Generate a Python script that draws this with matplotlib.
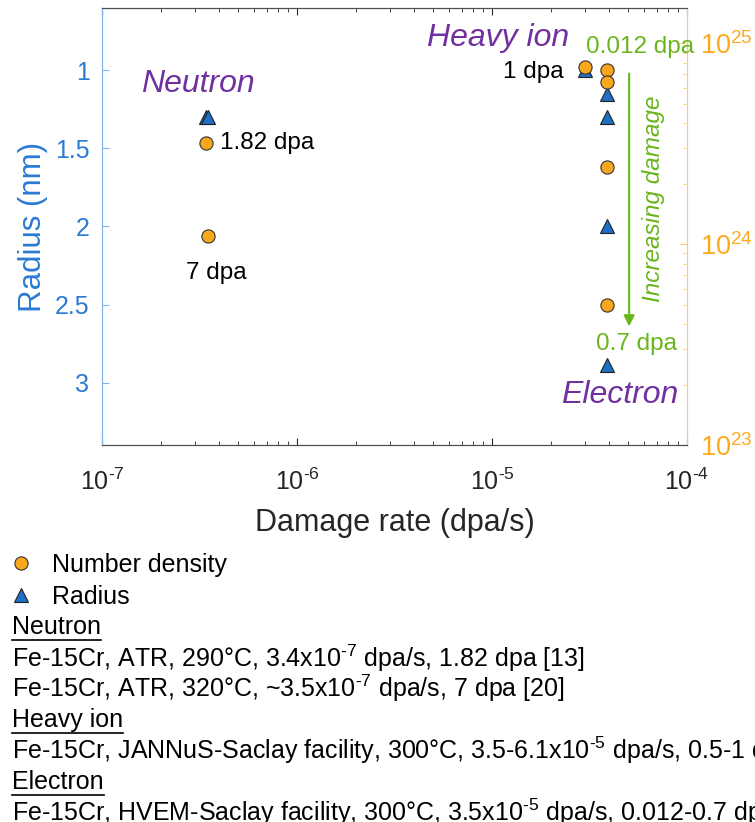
import matplotlib
matplotlib.use("Agg")
import matplotlib.pyplot as plt
from matplotlib.lines import Line2D
from matplotlib.ticker import FuncFormatter
import numpy as np

plt.rcParams["font.family"] = ["Liberation Sans", "DejaVu Sans"]
plt.rcParams["mathtext.fontset"] = "custom"
plt.rcParams["mathtext.rm"] = "Liberation Sans"
plt.rcParams["mathtext.it"] = "Liberation Sans:italic"
plt.rcParams["axes.unicode_minus"] = False

HY = "\u2010"  # short hyphen for exponents

# damage rate (dpa/s), radius (nm), number density (m^-3)
neutron_rate = [3.4e-7, 3.5e-7]
neutron_radius = [1.30, 1.30]
neutron_density = [3.2e24, 1.1e24]

ion_rate = [3.0e-5]
ion_radius = [1.0]
ion_density = [7.6e24]

electron_rate = [3.9e-5, 3.9e-5, 3.9e-5, 3.9e-5]
electron_radius = [1.15, 1.30, 2.0, 2.89]
electron_density = [7.4e24, 6.4e24, 2.42e24, 5.0e23]

desc_lines = [
    ("Neutron", True),
    ("Fe-15Cr, ATR, 290°C, 3.4x10$^{" + HY + "7}$ dpa/s, 1.82 dpa [13]", False),
    ("Fe-15Cr, ATR, 320°C, ~3.5x10$^{" + HY + "7}$ dpa/s, 7 dpa [20]", False),
    ("Heavy ion", True),
    ("Fe-15Cr, JANNuS-Saclay facility, 300°C, 3.5-6.1x10$^{" + HY
     + "5}$ dpa/s, 0.5-1 dpa", False),
    ("Electron", True),
    ("Fe-15Cr, HVEM-Saclay facility, 300°C, 3.5x10$^{" + HY
     + "5}$ dpa/s, 0.012-0.7 dpa", False),
]

ORANGE = "#F9A81E"
ORANGE_TXT = "#FBAA1E"
BLUE = "#1F6FC5"
BLUE_TXT = "#2B7AD3"
PURPLE = "#7030A0"
GREEN = "#6AB51E"
DARK = "#262626"

W, H = 755, 822


def fx(px):
    return px / W


def fy(py):
    return 1 - py / H


def pow10(v, pos):
    e = int(round(np.log10(v)))
    s = str(e).replace("-", HY)
    return "$\\mathdefault{10^{" + s + "}}$"


fig = plt.figure(figsize=(W / 100, H / 100), dpi=100)
ax = fig.add_axes([fx(102), fy(445), fx(687 - 102), (445 - 8) / H])
ax2 = ax.twinx()

ax.set_xscale("log")
ax.set_xlim(1e-7, 1e-4)
ax.xaxis.set_major_formatter(FuncFormatter(pow10))
ax.set_ylim(3.4, 0.6)
ax.set_yticks([1, 1.5, 2, 2.5, 3])
ax.set_yticklabels(["1", "1.5", "2", "2.5", "3"])
ax2.set_yscale("log")
ax2.set_ylim(1e23, 1.5e25)
ax2.set_yticks([1e23, 1e24, 1e25])
ax2.yaxis.set_major_formatter(FuncFormatter(pow10))

tri = dict(marker="^", ms=10, mfc=BLUE, mec="#222222", mew=0.8, ls="none")
circ = dict(marker="o", ms=9.5, mfc=ORANGE, mec="#333333", mew=0.8, ls="none")

for r, rad in [(neutron_rate, neutron_radius), (ion_rate, ion_radius),
               (electron_rate, electron_radius)]:
    ax.plot(r, rad, **tri)
for r, den in [(neutron_rate, neutron_density), (ion_rate, ion_density),
               (electron_rate, electron_density)]:
    ax2.plot(r, den, **circ)

# axes styling
ax.tick_params(axis="x", which="both", direction="in", top=True, colors=DARK,
               labelsize=18, pad=17)
ax.tick_params(axis="x", which="major", length=5)
ax.tick_params(axis="x", which="minor", length=3)
ax.tick_params(axis="y", which="both", direction="in", colors=BLUE_TXT,
               labelsize=18, length=5, pad=9)
ax2.tick_params(axis="y", which="both", direction="in", colors=ORANGE_TXT,
                labelsize=19.5, pad=9)
ax2.tick_params(axis="y", which="major", length=5)
ax2.tick_params(axis="y", which="minor", length=3)
for a in (ax, ax2):
    a.spines["top"].set_color("#4d4d4d")
    a.spines["bottom"].set_color("#4d4d4d")
    a.spines["left"].set_color("#7FB5EA")
    a.spines["right"].set_color("#FBCB7A")
ax.tick_params(axis="y", color="#7FB5EA")
ax2.tick_params(axis="y", which="both", color="#FBCB7A")

ax.set_xlabel("Damage rate (dpa/s)", fontsize=22, color=DARK, labelpad=9)
ax.set_ylabel("Radius (nm)", fontsize=22.5, color=BLUE_TXT, labelpad=5)

# group labels
ax.text(3.1e-7, 1.09, "Neutron", fontsize=23, style="italic", color=PURPLE,
        ha="center", va="center")
ax.text(1.07e-5, 0.79, "Heavy ion", fontsize=23, style="italic",
        color=PURPLE, ha="center", va="center")
ax.text(4.5e-5, 3.08, "Electron", fontsize=23, style="italic", color=PURPLE,
        ha="center", va="center")

# dose labels next to the number density points
lab = dict(textcoords="offset pixels", va="center", fontsize=17.5)
ax2.annotate("1 dpa", (ion_rate[0], ion_density[0]), xytext=(-21, -5),
             ha="right", color="black", **lab)
ax2.annotate("1.82 dpa", (neutron_rate[0], neutron_density[0]),
             xytext=(14, 0), ha="left", color="black", **lab)
ax2.annotate("7 dpa", (neutron_rate[1], neutron_density[1]),
             xytext=(8, -37), ha="center", color="black", **lab)
ax2.annotate("0.012 dpa", (electron_rate[0], electron_density[0]),
             xytext=(33, 23), ha="center", color=GREEN, **lab)
ax2.annotate("0.7 dpa", (electron_rate[-1], electron_density[-1]),
             xytext=(29, -39), ha="center", color=GREEN, **lab)

# damage arrow
ax.annotate("", xy=(5.05e-5, 2.64), xytext=(5.05e-5, 1.02),
            arrowprops=dict(arrowstyle="-|>", color=GREEN, lw=1.5,
                            mutation_scale=16, shrinkA=0, shrinkB=0))
ax.text(6.75e-5, 1.82, "Increasing damage", rotation=90, fontsize=17.5,
        style="italic", color=GREEN, ha="center", va="center")

# legend below the axes
handles = [Line2D([], [], **circ), Line2D([], [], **tri)]
fig.legend(handles, ["Number density", "Radius"], loc="upper left",
           bbox_to_anchor=(fx(8), fy(553)), frameon=False, fontsize=18,
           handlelength=1.0, handletextpad=0.75, labelspacing=0.32,
           borderpad=0, borderaxespad=0)

# sample descriptions
texts = []
for i, (line, header) in enumerate(desc_lines):
    t = fig.text(fx(12), fy(627 + i * 30.9), line, fontsize=18,
                 color="black", ha="left", va="center")
    texts.append((t, header))

fig.canvas.draw()
renderer = fig.canvas.get_renderer()
for t, header in texts:
    if header:
        bb = t.get_window_extent(renderer)
        y = (bb.y0 - 1) / H
        fig.add_artist(Line2D([bb.x0 / W, bb.x1 / W], [y, y], color="black",
                              lw=1.2, transform=fig.transFigure))

fig.savefig("out.png", dpi=100)
